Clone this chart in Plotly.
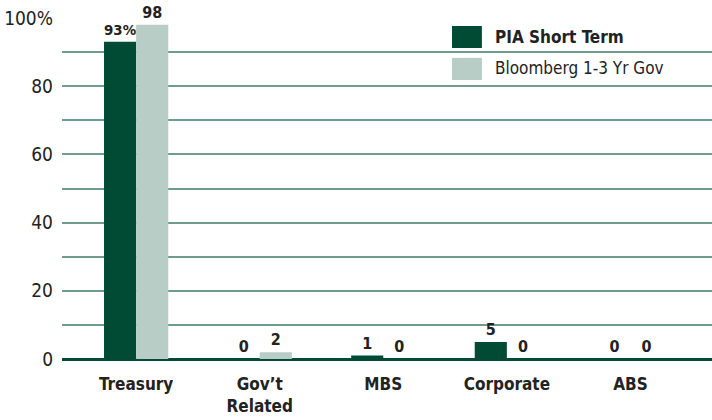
import plotly.graph_objects as go

categories = ["Treasury", "Gov’t<br>Related", "MBS", "Corporate", "ABS"]
pia_values = [93, 0, 1, 5, 0]
bbg_values = [98, 2, 0, 0, 0]
pia_labels = ["93%", "0", "1", "5", "0"]
bbg_labels = ["98", "2", "0", "0", "0"]
series_names = ["PIA Short Term", "Bloomberg 1-3 Yr Gov"]
y_tickvals = [0, 20, 40, 60, 80, 100]
y_ticktext = ["0", "20", "40", "60", "80", "100%"]
y_minor = [10, 30, 50, 70, 90]

FONT = "Liberation Sans Narrow, DejaVu Sans Condensed, Arial Narrow, sans-serif"
DARK = "#014a33"
LIGHT = "#b7cdc5"
GRID = "#6f9d8c"

fig = go.Figure()
for vals, labels, color, name in [(pia_values, pia_labels, DARK, series_names[0]),
                                   (bbg_values, bbg_labels, LIGHT, series_names[1])]:
    fig.add_trace(go.Bar(
        x=list(range(len(categories))), y=vals, name=name,
        marker=dict(color=color, line=dict(width=0)),
        text=labels, textposition="outside", cliponaxis=False,
        textfont=dict(family=FONT, size=16, color="#222222", weight="bold"),
        showlegend=False,
    ))

# legend drawn as large swatches + text (matching the reference's big swatches)
legend_rows = [(0.9765, 0.912, 0.944, DARK, "<b>" + series_names[0] + "</b>"),
               (0.883, 0.818, 0.853, LIGHT, series_names[1])]
for y1, y0, yc, color, label in legend_rows:
    fig.add_shape(type="rect", xref="paper", yref="paper",
                  x0=0.6, x1=0.646, y0=y0, y1=y1,
                  fillcolor=color, line=dict(width=0), layer="above")
    fig.add_annotation(xref="paper", yref="paper", x=0.663, y=yc,
                       xanchor="left", yanchor="middle", text=label, showarrow=False,
                       font=dict(family=FONT, size=17, color="#222222"))

fig.update_layout(
    width=712, height=420,
    margin=dict(l=62, r=0, t=18, b=61),
    paper_bgcolor="white", plot_bgcolor="white",
    barmode="group", bargap=0.48, bargroupgap=0,
    font=dict(family=FONT, color="#222222"),
    showlegend=False,
    xaxis=dict(
        tickmode="array", tickvals=list(range(len(categories))), ticktext=categories,
        range=[-0.6, 4.66], showgrid=False, showline=False, zeroline=False,
        tickfont=dict(family=FONT, size=17, color="#222222", weight="bold"),
        ticks="", ticklabelstandoff=13,
    ),
    yaxis=dict(
        range=[0, 100], tickmode="array", tickvals=y_tickvals, ticktext=y_ticktext,
        showgrid=True, gridcolor=GRID, gridwidth=1.5,
        minor=dict(tickmode="array", tickvals=y_minor, showgrid=True,
                   gridcolor=GRID, gridwidth=1.5),
        zeroline=True, zerolinecolor=DARK, zerolinewidth=3,
        showline=False, ticks="",
        tickfont=dict(family=FONT, size=19, color="#222222"),
        ticklabelstandoff=8,
    ),
)

fig.write_html("out.html", config={"displayModeBar": False},
               post_script="document.body.style.margin='0';")
